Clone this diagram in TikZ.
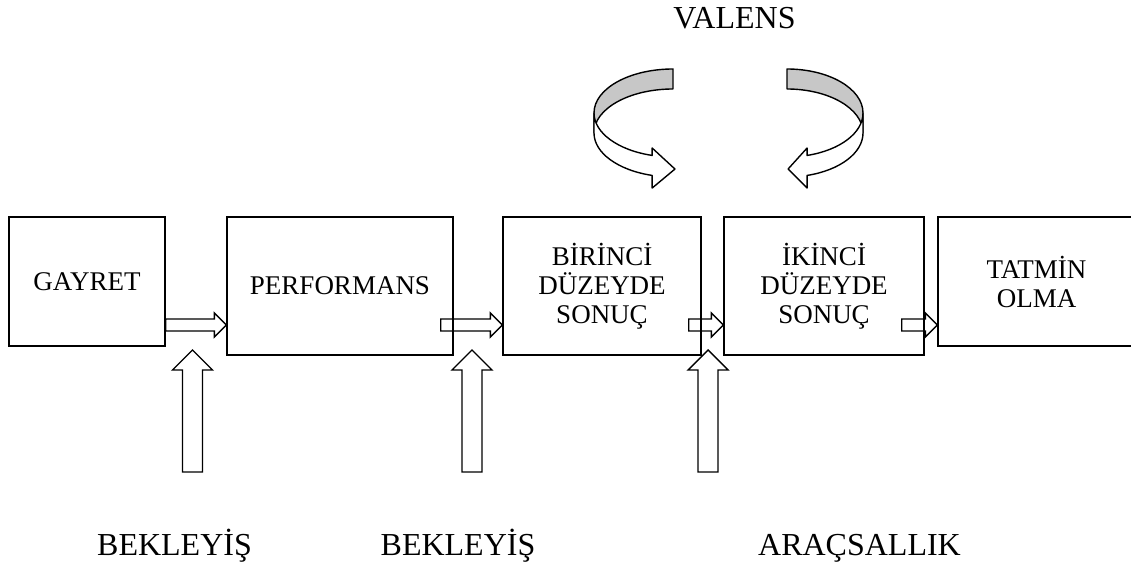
\documentclass[tikz,border=0pt]{standalone}
\usepackage{fontspec}
\setmainfont{Liberation Serif}
\usetikzlibrary{calc}

\tikzset{
  box/.style={draw, line width=1.4pt, inner sep=0pt, align=center,
    font={\fontsize{27}{29}\selectfont}},
  tag/.style={anchor=base, font={\fontsize{32}{36}\selectfont}},
  rblock/.style={draw, line width=1.4pt, line join=miter, to path={
    let \p1=(\tikztostart), \p2=(\tikztotarget) in
    (\x1,\y1+6pt) -- (\x2-12pt,\y1+6pt) -- (\x2-12pt,\y1+12pt) -- (\x2,\y1)
    -- (\x2-12pt,\y1-12pt) -- (\x2-12pt,\y1-6pt) -- (\x1,\y1-6pt) -- cycle}},
  ublock/.style={draw, line width=1.4pt, line join=miter, to path={
    let \p1=(\tikztostart), \p2=(\tikztotarget) in
    (\x1-10pt,\y1) -- (\x1-10pt,\y2-20pt) -- (\x1-20pt,\y2-20pt) -- (\x1,\y2)
    -- (\x1+20pt,\y2-20pt) -- (\x1+10pt,\y2-20pt) -- (\x1+10pt,\y1) -- cycle}},
  ribbon/.style={draw, line width=1.4pt, line join=round}
}

\begin{document}
\begin{tikzpicture}[x=1pt,y=1pt]
  \useasboundingbox (0,0) rectangle (1131,568);

  \node[box, minimum width=156pt, minimum height=129pt] (gayret) at (87,286.5) {GAYRET};
  \node[box, minimum width=226pt, minimum height=138pt] (perf) at (340,282) {PERFORMANS};
  \node[box, minimum width=198pt, minimum height=138pt] (birinci) at (602,282)
    {BİRİNCİ\\DÜZEYDE\\SONUÇ};
  \node[box, minimum width=200pt, minimum height=138pt] (ikinci) at (824,282)
    {İKİNCİ\\DÜZEYDE\\SONUÇ};
  \node[box, minimum width=197pt, minimum height=129pt] (tatmin) at (1036.5,286.5)
    {TATMİN\\OLMA};

  % hollow arrows between the stages
  \coordinate (row) at (0,243);
  \draw[rblock] (gayret.east |- row) to (perf.west |- row);
  \draw[rblock] ($(perf.east |- row)+(-13,0)$) to (birinci.west |- row);
  \draw[rblock] ($(birinci.east |- row)+(-13,0)$) to (ikinci.west |- row);
  \draw[rblock] ($(ikinci.east |- row)+(-23,0)$) to (tatmin.west |- row);

  \foreach \x/\k in {192.5/1, 472/2, 708/3} {
    \coordinate (foot\k) at (\x,96);
    \coordinate (head\k) at (\x,218);
    \draw[ublock] (foot\k) to (head\k);
  }

  % valence loops
  \filldraw[ribbon, fill=black!22] (673,499)
    arc[start angle=90, end angle=180, x radius=79, y radius=44] -- (594,435)
    arc[start angle=180, end angle=90, x radius=79, y radius=44] -- cycle;
  \filldraw[ribbon, fill=white] (594,455)
    arc[start angle=180, end angle=254.7, x radius=79, y radius=44]
    -- ++(0,7.4) -- ++(22.8,-21) -- ++(-22.8,-19) -- ++(0,12.6)
    arc[start angle=254.7, end angle=180, x radius=79, y radius=44] -- cycle;

  \filldraw[ribbon, fill=black!22] (787,499)
    arc[start angle=90, end angle=0, x radius=76, y radius=44] -- (863,435)
    arc[start angle=0, end angle=90, x radius=76, y radius=44] -- cycle;
  \filldraw[ribbon, fill=white] (863,455)
    arc[start angle=360, end angle=285.3, x radius=76, y radius=44]
    -- ++(0,7.4) -- ++(-19,-21) -- ++(19,-19) -- ++(0,12.6)
    arc[start angle=285.3, end angle=360, x radius=76, y radius=44] -- cycle;

  \node[tag] (valens) at (734.5,539) {VALENS};
  \node[tag] (bek1) at (174.5,13) {BEKLEYİŞ};
  \node[tag] (bek2) at (458,13) {BEKLEYİŞ};
  \node[tag] (aracs) at (859.5,13) {ARAÇSALLIK};
\end{tikzpicture}
\end{document}
